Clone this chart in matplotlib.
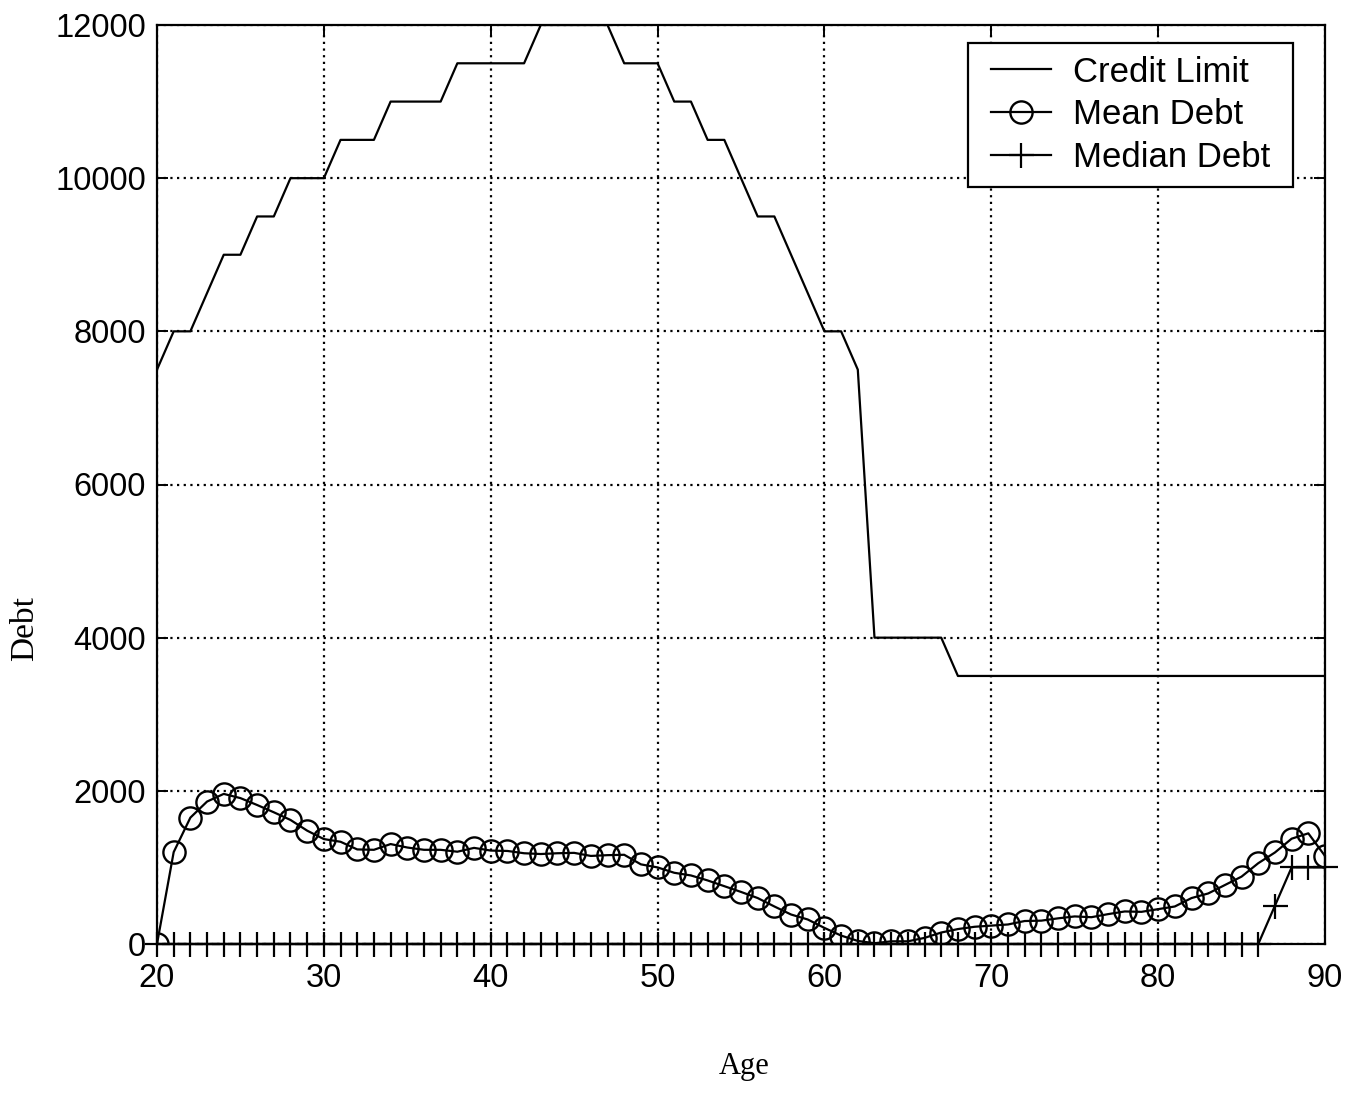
import numpy as np
import matplotlib.pyplot as plt

# age grid and series (one value per year of age)
age = np.arange(20, 91)

credit_limit = [7500, 8000, 8000, 8500, 9000, 9000, 9500, 9500, 10000, 10000,
                10000, 10500, 10500, 10500, 11000, 11000, 11000, 11000, 11500, 11500,
                11500, 11500, 11500, 12000, 12000, 12000, 12000, 12000, 11500, 11500,
                11500, 11000, 11000, 10500, 10500, 10000, 9500, 9500, 9000, 8500,
                8000, 8000, 7500, 4000, 4000, 4000, 4000, 4000, 3500, 3500,
                3500, 3500, 3500, 3500, 3500, 3500, 3500, 3500, 3500, 3500,
                3500, 3500, 3500, 3500, 3500, 3500, 3500, 3500, 3500, 3500,
                3500]

mean_debt = [0, 1200, 1650, 1860, 1960, 1905, 1815, 1720, 1620, 1480,
             1370, 1335, 1235, 1230, 1305, 1260, 1230, 1230, 1205, 1255,
             1220, 1215, 1185, 1175, 1185, 1190, 1150, 1160, 1165, 1040,
             1000, 930, 895, 830, 755, 680, 600, 490, 385, 320,
             210, 110, 40, 10, 35, 35, 80, 150, 195, 225,
             240, 255, 300, 305, 335, 360, 350, 390, 425, 420,
             455, 490, 600, 660, 770, 880, 1055, 1195, 1375, 1445,
             1150]

median_debt = [0] * 67 + [500, 1000, 1000, 1000]

x_ticks = [20, 30, 40, 50, 60, 70, 80, 90]
y_ticks = [0, 2000, 4000, 6000, 8000, 10000, 12000]

sans = 'Liberation Sans'
serif = 'Liberation Serif'

fig = plt.figure(figsize=(13.6, 11.08), dpi=100)
ax = fig.add_axes([157 / 1360, 1 - 944 / 1108, 1168 / 1360, 919 / 1108])

ax.plot(age, credit_limit, color='k', lw=1.6, label='Credit Limit')
ax.plot(age, mean_debt, color='k', lw=1.6, marker='o', ms=16, mfc='none',
        mec='k', mew=1.7, label='Mean Debt')
ax.plot(age, median_debt, color='k', lw=1.6, marker='+', ms=18, mew=1.6,
        label='Median Debt', clip_on=False)

ax.set_xlim(20, 90)
ax.set_ylim(0, 12000)
ax.set_xticks(x_ticks)
ax.set_yticks(y_ticks)
ax.grid(True, color='k', linestyle=(0, (1, 2)), lw=1.6)
ax.set_axisbelow(True)

ax.tick_params(direction='in', length=8, width=1.4, top=True, right=True,
               labelsize=23.5)
ax.tick_params(axis='x', pad=14)
ax.tick_params(axis='y', pad=8)
for lab in ax.get_xticklabels() + ax.get_yticklabels():
    lab.set_family(sans)
for s in ax.spines.values():
    s.set_linewidth(1.6)

ax.set_xlabel('Age', family=serif, fontsize=22)
ax.set_ylabel('Debt', family=serif, fontsize=24)
ax.xaxis.set_label_coords(0.503, -0.1175)
ax.yaxis.set_label_coords(-0.100, 0.343)

# legend frame gets extra room left/right only (flat mutation aspect)
leg = ax.legend(loc='upper right', bbox_to_anchor=(0.9637, 0.9804),
                borderaxespad=0, fancybox=False, framealpha=1,
                prop={'family': sans, 'size': 25}, handlelength=1.75,
                handletextpad=0.62, labelspacing=0.28, borderpad=0.36)
frame = leg.get_frame()
frame.set_boxstyle('square', pad=0.3)
frame.set_mutation_aspect(0.01)
frame.set_edgecolor('k')
frame.set_linewidth(1.6)

fig.savefig('out.png', dpi=100)
